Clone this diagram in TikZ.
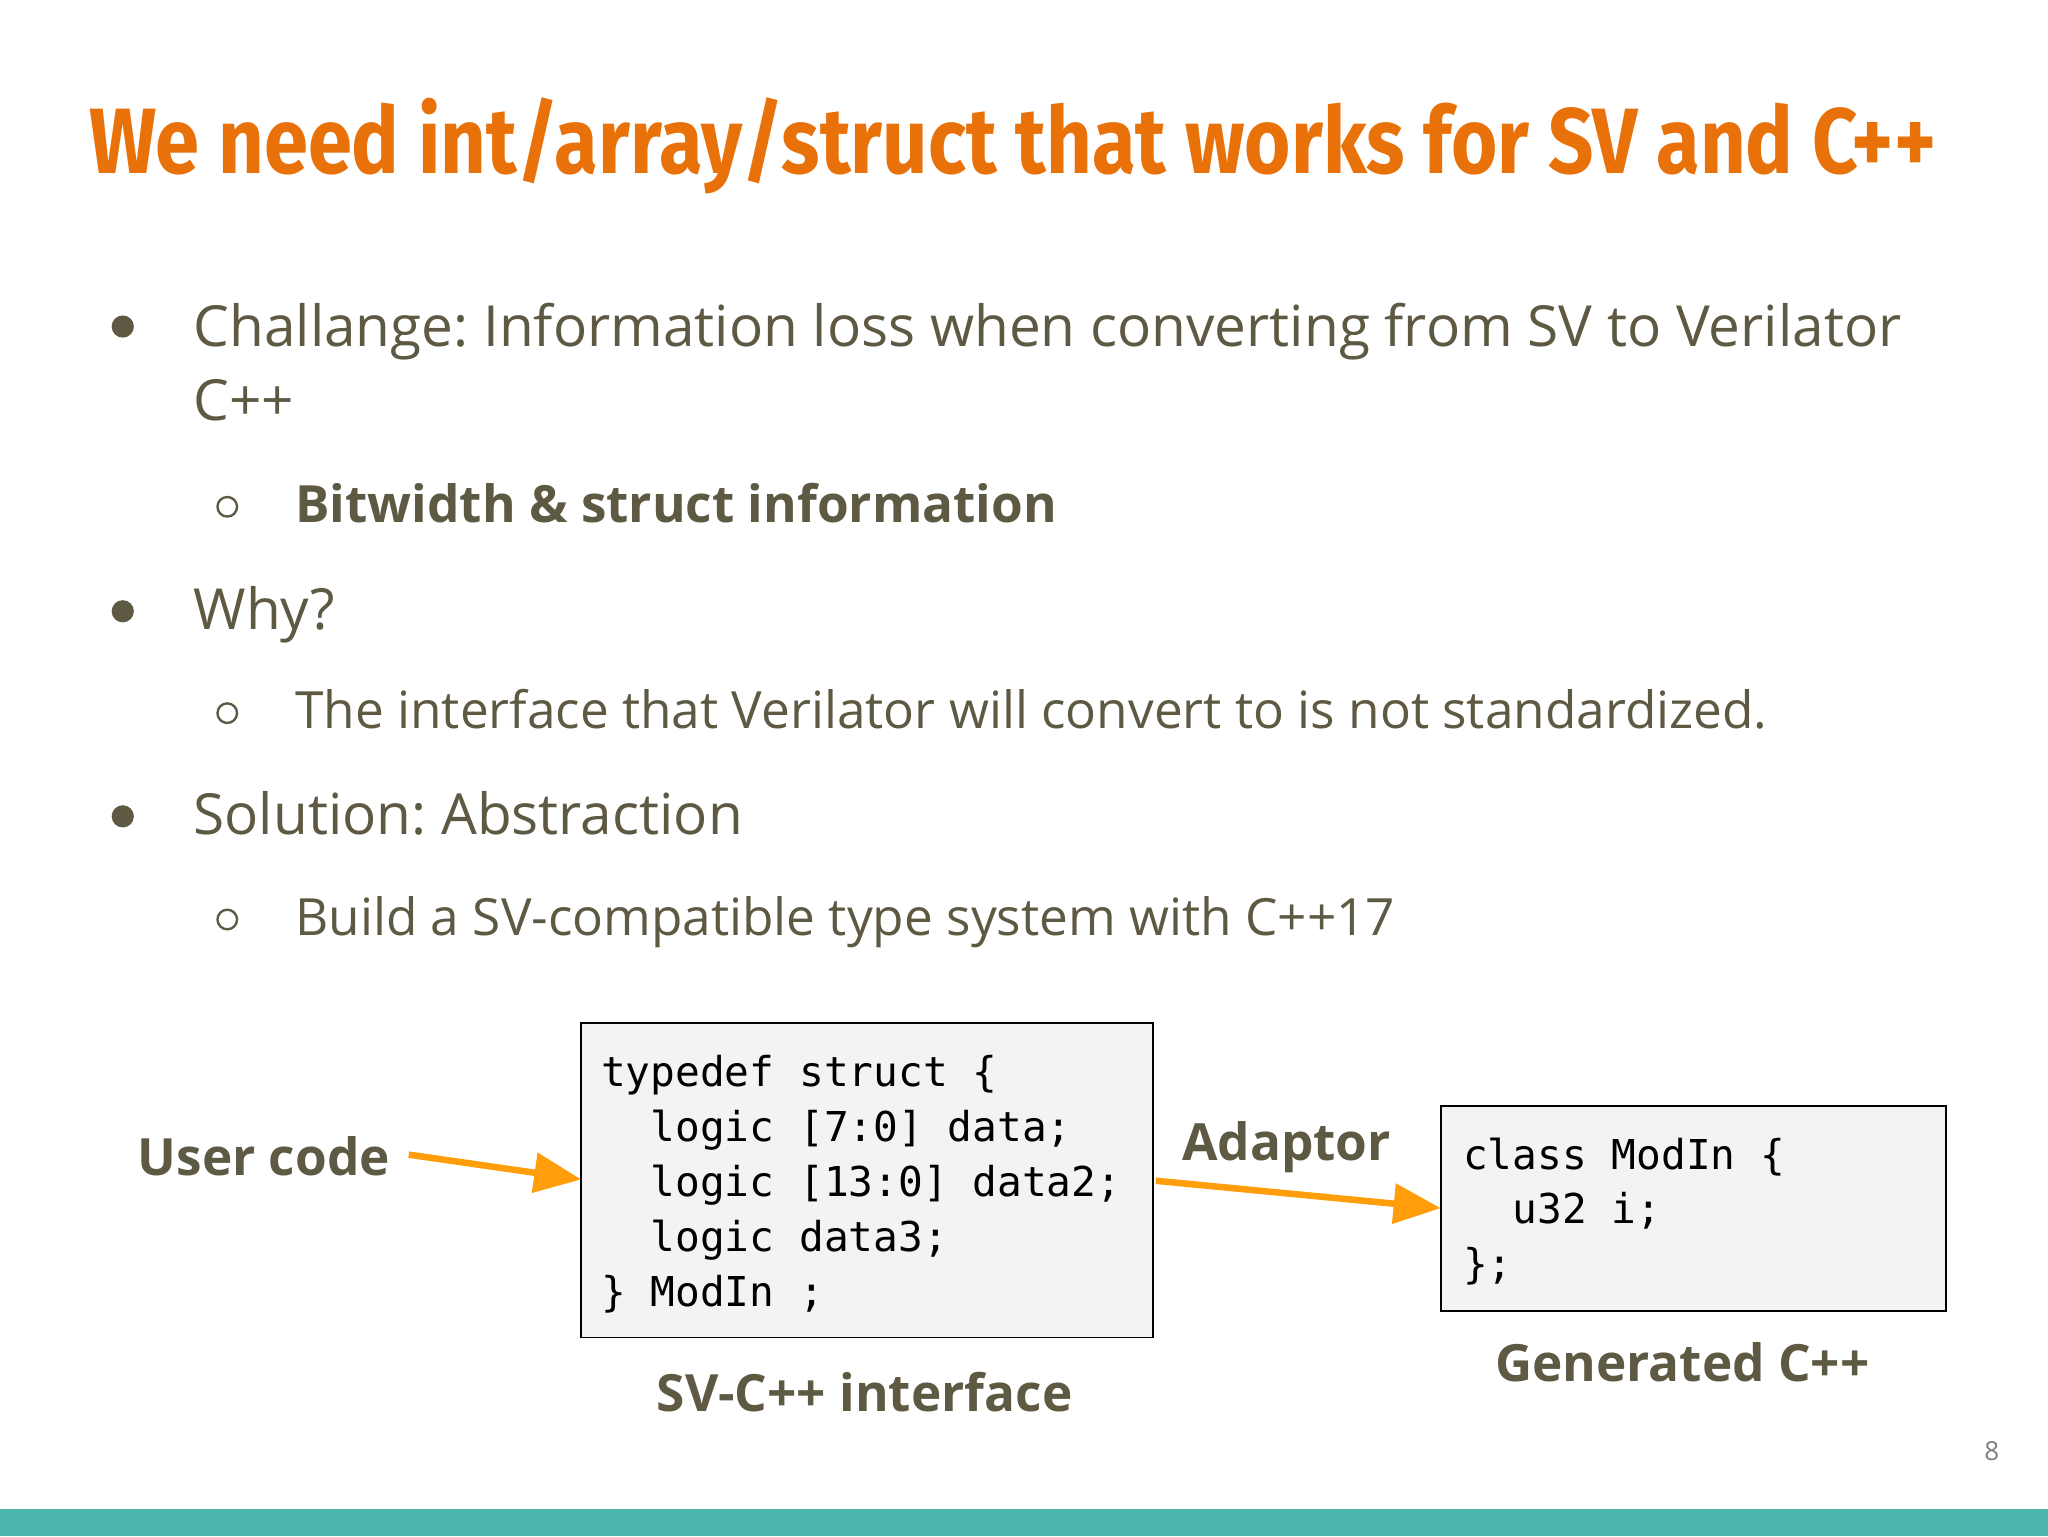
\documentclass[tikz,border=0pt]{standalone}
\usepackage{fontspec}
\setmainfont{Open Sans}
\newfontfamily\titlefont{Fira Sans}
\newfontfamily\codefont{DejaVu Sans Mono}
\usetikzlibrary{arrows.meta}
\definecolor{torange}{HTML}{E8710A}
\definecolor{txt}{HTML}{5E5943}
\definecolor{arr}{HTML}{FF9D0A}
\definecolor{teal}{HTML}{4DB6AC}
\definecolor{boxbg}{HTML}{F3F3F5}
\frenchspacing
\begin{document}
\frenchspacing
\begin{tikzpicture}[x=1bp,y=-1bp,
  body/.style={anchor=base west,inner sep=0,text=txt,font=\frenchspacing\fontsize{43.4bp}{50bp}\selectfont},
  sub/.style={anchor=base west,inner sep=0,text=txt,font=\frenchspacing\fontsize{39.3bp}{46bp}\selectfont},
  fbul/.style={circle,fill=txt,draw=none,minimum size=17bp,inner sep=0},
  hbul/.style={circle,draw=txt,line width=1.8bp,minimum size=15bp,inner sep=0},
  code/.style={anchor=base west,inner sep=0,text=black,font=\codefont\fontsize{31.5bp}{36bp}\selectfont},
  lab/.style={anchor=center,inner sep=0,text=txt,font=\bfseries\fontsize{39.3bp}{46bp}\selectfont},
  box/.style={draw=black,line width=1.5bp,fill=boxbg},
  arrow/.style={draw=arr,line width=5bp,-{Triangle[length=36bp,width=30bp]}}]
\useasboundingbox (0,0) rectangle (1568,1176);
\fill[white] (0,0) rectangle (1568,1176);
\fill[teal] (0,1155) rectangle (1568,1176);
\node[anchor=base west,inner sep=0,text=torange] (title) at (68,133)
  {\resizebox{1414bp}{58bp}{\titlefont\bfseries We need int/array/struct that works for SV and C++}};
\node[fbul] (b1) at (94,250) {};
\node[body] (t1) at (148,265) {Challange: Information loss when converting from SV to Verilator};
\node[body] (t1b) at (148,322) {C++};
\node[hbul] (b2) at (174,388) {};
\node[sub,font=\bfseries\fontsize{39.3bp}{46bp}\selectfont] (t2) at (226,400) {Bitwidth \& struct information};
\node[fbul] (b3) at (94,468) {};
\node[body] (t3) at (148,482) {Why?};
\node[hbul] (b4) at (174,546) {};
\node[sub] (t4) at (226,558) {The interface that Verilator will convert to is not standardized.};
\node[fbul] (b5) at (94,625) {};
\node[body] (t5) at (148,639) {Solution: Abstraction};
\node[hbul] (b6) at (174,704) {};
\node[sub] (t6) at (226,716) {Build a SV-compatible type system with C++17};
\draw[box] (445,783) rectangle (883,1024);
\coordinate (box1w) at (445,903);
\coordinate (box1e) at (883,903);
\draw[box] (1103,847) rectangle (1490,1004);
\coordinate (box2w) at (1103,925);
\node[code] (c1) at (460,832) {typedef struct \{};
\node[code] (c2) at (460,874) {\ \ logic [7:0] data;};
\node[code] (c3) at (460,916) {\ \ logic [13:0] data2;};
\node[code] (c4) at (460,958) {\ \ logic data3;};
\node[code] (c5) at (460,1000) {\} ModIn ;};
\node[code] (d1) at (1120,895) {class ModIn \{};
\node[code] (d2) at (1120,937) {\ \ u32 i;};
\node[code] (d3) at (1120,979) {\};};
\node[lab] (user) at (202,885) {User code};
\node[lab] (adapt) at (985,878) {Adaptor};
\node[lab] (svc) at (662,1066) {SV-C++ interface};
\node[lab] (gen) at (1288,1043) {Generated C++};
\coordinate (u1) at (313,884);
\coordinate (a1) at (885,904);
\draw[arrow] (u1) -- (box1w);
\draw[arrow] (a1) -- (box2w);
\node[anchor=center,text=gray,font=\fontsize{20bp}{20bp}\selectfont] (pg) at (1525,1111) {8};
\end{tikzpicture}
\end{document}
